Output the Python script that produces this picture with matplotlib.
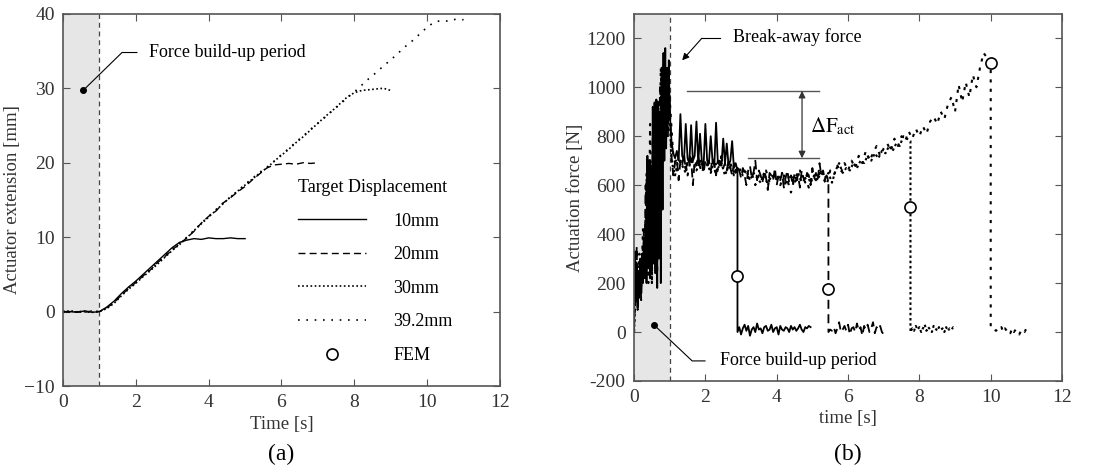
import numpy as np
import matplotlib
matplotlib.use("Agg")
import matplotlib.pyplot as plt
from matplotlib.ticker import FuncFormatter

plt.rcParams['font.family'] = ['Liberation Serif', 'DejaVu Serif']
plt.rcParams['mathtext.fontset'] = 'stix'

# ---------------- (a) actuator extension, sampled every 0.2 s ----------------
ext_step = 0.2
ext_10 = [0.0, 0.0, -0.1, 0.1, -0.1, 0.0, 0.6, 1.4, 2.4, 3.3, 4.1, 5.0, 5.9,
          6.8, 7.7, 8.6, 9.3, 9.6, 9.8, 9.7, 9.9, 9.8, 9.8, 9.9, 9.8, 9.8]
ext_20 = [0.0, -0.1, 0.0, -0.1, 0.1, 0.0, 0.5, 1.2, 2.2, 3.1, 3.9, 4.8, 5.6,
          6.6, 7.4, 8.3, 9.1, 9.9, 10.8, 11.9, 12.8, 13.5, 14.6, 15.3, 16.1,
          16.8, 17.7, 18.5, 19.3, 19.7, 19.8, 19.9, 19.8, 20.0, 19.9, 20.0]
ext_30 = [0.0, 0.1, -0.1, 0.0, -0.1, 0.0, 0.4, 1.1, 2.1, 3.0, 3.8, 4.7, 5.5,
          6.4, 7.3, 8.2, 9.0, 9.9, 10.9, 11.8, 12.7, 13.6, 14.5, 15.4, 16.2,
          17.0, 17.8, 18.6, 19.3, 20.2, 21.0, 21.8, 22.7, 23.5, 24.4, 25.3,
          26.2, 27.0, 27.9, 28.8, 29.4, 29.7, 29.8, 29.9, 30.0, 29.7]
ext_39 = [0.0, 0.0, 0.1, -0.1, 0.0, 0.0, 0.5, 1.3, 2.3, 3.2, 4.0, 4.9, 5.7,
          6.6, 7.5, 8.4, 9.2, 10.0, 10.9, 11.9, 12.8, 13.7, 14.6, 15.4, 16.2,
          17.1, 17.9, 18.7, 19.4, 20.2, 21.1, 21.9, 22.8, 23.6, 24.5, 25.3,
          26.1, 27.0, 27.8, 28.7, 29.5, 30.4, 31.3, 32.1, 33.0, 33.8, 34.7,
          35.6, 36.4, 37.3, 38.2, 38.9, 39.1, 39.0, 39.3, 39.2]

# ---------------- (b) actuation force, segments (start, step, values) ----------------
force_10 = [
    (0.0, 0.025, [0, 330, 150, 280, 100, 250, 140, 300, 160, 320, 200, 380, 220,
                  450, 200, 710, 260, 700, 230, 680, 250, 920, 280, 900, 240, 950,
                  180, 940, 300, 880, 200, 1080, 500, 1140, 700, 1160, 750, 1070,
                  850, 1110, 900]),
    (1.05, 0.05, [780, 730, 710, 740, 700, 890, 720, 700, 850, 710, 690, 845, 700,
                  720, 860, 690, 810, 700, 680, 850, 700, 690, 800, 700, 680, 855,
                  690, 700, 680, 790, 690, 770, 680, 700, 780, 670, 690, 660]),
    (2.90, 0.05, [0, 20, -10, 15, 30, 5, 25, -15, 10, 20, 0, 35, 10, 15, -5, 20,
                  25, 5, 10, 30, 0, 15, 20, -10, 25, 10, 5, 20, 15, 0, 25, 10, 20,
                  5, 15, 30, 10, 0, 20, 15, 25, 20]),
]
force_20 = [
    (0.0, 0.025, [0, 260, 120, 350, 90, 220, 180, 260, 130, 300, 240, 420, 280,
                  600, 300, 720, 350, 650, 220, 560, 330, 800, 400, 950, 350, 900,
                  250, 820, 400, 1000, 600, 1050, 750, 1100, 850, 1030, 900, 1080,
                  800, 1000, 950]),
    (1.05, 0.05, [720, 640, 690, 710, 620, 700, 680, 730, 660, 700,
                  690, 710, 600, 700, 680, 720, 670, 690, 650, 700,
                  680, 700, 660, 710, 690, 640, 700, 680, 720, 670,
                  690, 660, 700, 670, 640, 690, 650, 680, 660, 630,
                  670, 640, 600, 660, 680, 630, 650, 700, 620, 660,
                  640, 610, 660, 630, 580, 650, 640, 620, 670, 600,
                  640, 620, 650, 590, 630, 660, 610, 640, 600, 650,
                  620, 640, 590, 660, 630, 610, 650, 640, 600, 670,
                  630, 650, 620, 690, 640, 660, 620, 640, 620]),
    (5.45, 0.05, [0, 10, 5, 20, -5, 15, 40, 0, 10, 25, 5, 30, -10, 15, 20, 0, 35,
                  5, 20, -15, 25, 10, 30, 0, 15, 40, -5, 20, 10, 25, 0, -10]),
]
force_30 = [
    (0.0, 0.05, [0, 200, 150, 280, 220, 350, 250, 600, 300, 700, 200, 900, 400,
                 950, 500, 1000, 700, 1050, 800, 1000, 880]),
    (1.05, 0.1, [700, 640, 710, 680, 650, 720, 690, 660, 700, 680,
                 690, 650, 700, 670, 690, 640, 680, 660, 650, 670,
                 640, 660, 620, 650, 630, 610, 650, 600, 640, 630,
                 620, 650, 600, 640, 630, 610, 660, 620, 640, 610,
                 640, 620, 660, 630, 650, 610, 660, 690, 650, 670,
                 660, 690, 670, 700, 690, 720, 700, 730, 710, 740,
                 730, 760, 740, 770, 760, 800, 790, 780]),
    (7.75, 0.05, [0, 15, 5, 25, 10, 20, 0, 15, 30, 5, 20, 10, 0, 25, 15, 5, 20,
                  10, 15, 0, 20, 5, 15, 10, 20, 15]),
]
force_39 = [
    (0.0, 0.05, [0, 240, 110, 320, 180, 420, 300, 650, 200, 850, 350, 780, 550,
                 900, 600, 1080, 750, 1120, 900, 1050, 950]),
    (1.1, 0.1, [720, 660, 700, 690, 640, 710, 680, 700, 650, 690,
                680, 700, 640, 690, 670, 660, 690, 640, 670, 650,
                660, 630, 650, 600, 640, 620, 660, 610, 630, 650,
                600, 640, 620, 570, 630, 650, 610, 630, 590, 640,
                620, 650, 630, 600, 660, 640, 680, 650, 690, 660,
                700, 670, 720, 690, 740, 700, 730, 760, 720, 750,
                770, 740, 790, 760, 800, 780, 820, 790, 830, 800,
                840, 810, 860, 880, 850, 900, 870, 930, 960, 900,
                1010, 940, 1020, 960, 1050, 1000, 1080, 1140, 1120, 1100]),
    (10.0, 0.05, [20, 20, 10, 5, 15, 10, 20, 0, 15, 5, 10, -5, 15, 0, 10, 5, -10,
                  5, 10, 0, 15]),
]

fem_t = [2.9, 5.45, 7.75, 10.0]
fem_f = [230, 175, 510, 1100]

labels = ['10mm', '20mm', '30mm', '39.2mm']
styles = ['-', (0, (5, 3)), (0, (1, 1.5)), (0, (1, 4))]
widths = [1.0, 1.0, 1.2, 1.2]
force_styles = ['-', (0, (5, 3)), (0, (1.2, 1.3)), (0, (1.5, 3))]
force_widths = [1.3, 1.3, 1.5, 1.5]


def build(segments):
    t, f = [], []
    for start, step, vals in segments:
        t.append(start + step * np.arange(len(vals)))
        f.append(np.asarray(vals, dtype=float))
    return np.concatenate(t), np.concatenate(f)


def style_axes(ax):
    for s in ax.spines.values():
        s.set_color('#555555')
        s.set_linewidth(1.2)
    ax.tick_params(direction='in', top=True, right=True, length=5,
                   labelsize=14, colors='#333333', pad=6)
    ax.tick_params(color='#555555')


fig = plt.figure(figsize=(11, 4.76), dpi=100)

# ---------------- panel (a) ----------------
ax1 = fig.add_axes([0.0573, 0.189, 0.3972, 0.782])
ax1.axvspan(0, 1, color='#e6e6e6', zorder=0, lw=0)
ax1.axvline(1, color='#444444', lw=0.9, ls=(0, (4, 3)))
for vals, lab, ls, lw in zip([ext_10, ext_20, ext_30, ext_39], labels, styles, widths):
    t = ext_step * np.arange(len(vals))
    ax1.plot(t, vals, color='k', ls=ls, lw=lw, label=lab)
ax1.plot([], [], 'o', mfc='white', mec='k', mew=1.2, ms=8, label='FEM')
ax1.set_xlim(0, 12)
ax1.set_ylim(-10, 40)
ax1.set_xticks(range(0, 13, 2))
ax1.set_yticks(range(-10, 41, 10))
ax1.set_xlabel('Time [s]', fontsize=13.5, color='#333333', labelpad=3)
ax1.set_ylabel('Actuator extension [mm]', fontsize=13.5, color='#333333', labelpad=2)
style_axes(ax1)
leg = ax1.legend(loc='upper left', bbox_to_anchor=(0.5, 0.60), frameon=False,
                 title='Target Displacement', fontsize=13, title_fontsize=13,
                 handlelength=3.8, handletextpad=1.5, labelspacing=0.92,
                 alignment='left')
ax1.plot(0.55, 29.7, 'o', color='k', ms=4)
ax1.plot([0.55, 1.62, 2.03], [29.7, 34.8, 34.8], color='k', lw=0.8)
ax1.text(2.36, 34.8, 'Force build-up period', fontsize=13, va='center')

# ---------------- panel (b) ----------------
ax2 = fig.add_axes([0.5764, 0.1996, 0.3891, 0.7714])
ax2.axvspan(0, 1, color='#e6e6e6', zorder=0, lw=0)
ax2.axvline(1, color='#444444', lw=0.9, ls=(0, (4, 3)))
for segs, ls, lw in zip([force_10, force_20, force_30, force_39], force_styles, force_widths):
    t, f = build(segs)
    ax2.plot(t, f, color='k', ls=ls, lw=lw)
ax2.plot(fem_t, fem_f, 'o', mfc='white', mec='k', mew=1.2, ms=8, zorder=5)
ax2.set_xlim(0, 12)
ax2.set_ylim(-200, 1300)
ax2.set_xticks(range(0, 13, 2))
ax2.set_yticks(range(-200, 1201, 200))
ax2.yaxis.set_major_formatter(FuncFormatter(lambda v, p: '%d' % v))
ax2.set_xlabel('time [s]', fontsize=13.5, color='#333333', labelpad=3)
ax2.set_ylabel('Actuation force [N]', fontsize=13.5, color='#333333', labelpad=2)
style_axes(ax2)

# annotations
ax2.plot([2.41, 1.9], [1200, 1200], color='k', lw=0.8)
ax2.annotate('', xy=(1.35, 1110), xytext=(1.9, 1200),
             arrowprops=dict(arrowstyle='-|>', color='k', lw=0.8, mutation_scale=10,
                             shrinkA=0, shrinkB=0))
ax2.text(2.78, 1204, 'Break-away force', fontsize=13, va='center')

ax2.plot(0.56, 29, 'o', color='k', ms=4)
ax2.plot([0.56, 1.63, 1.99], [29, -118, -118], color='k', lw=0.8)
ax2.text(2.41, -118, 'Force build-up period', fontsize=13, va='center')

ax2.plot([1.49, 5.19], [985, 985], color='#555555', lw=1.0)
ax2.plot([3.2, 5.19], [710, 710], color='#555555', lw=1.0)
ax2.annotate('', xy=(4.71, 710), xytext=(4.71, 985),
             arrowprops=dict(arrowstyle='<|-|>', color='#333333', lw=0.9,
                             mutation_scale=10, shrinkA=0, shrinkB=0))
ax2.text(4.93, 840, r'$\Delta\mathrm{F}_{\mathrm{act}}$', fontsize=15, va='center')

fig.text(0.2559, 0.045, '(a)', fontsize=17, ha='center', va='center')
fig.text(0.771, 0.045, '(b)', fontsize=17, ha='center', va='center')

fig.savefig('out.png', dpi=100)
